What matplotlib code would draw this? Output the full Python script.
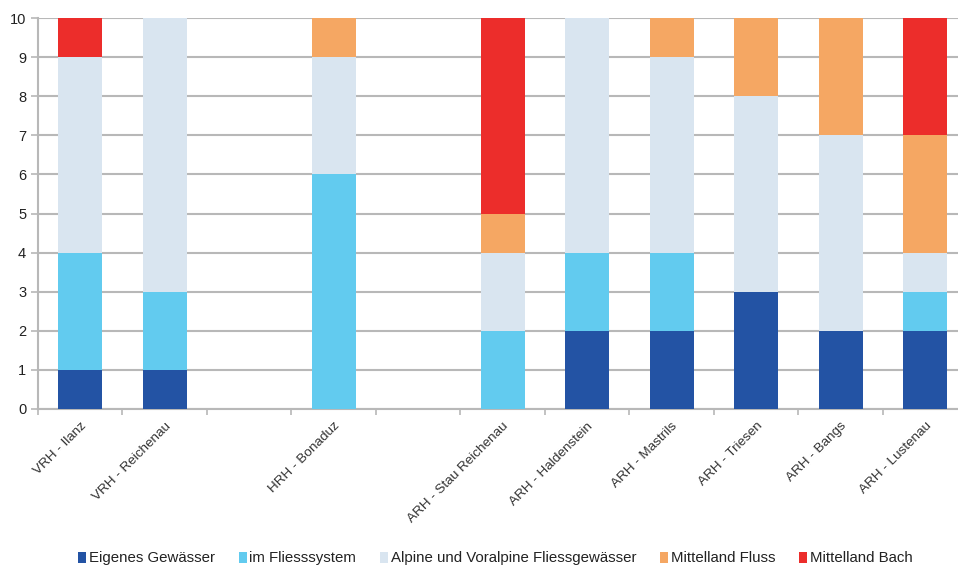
import numpy as np
import matplotlib.pyplot as plt
from matplotlib.patches import Patch

plt.rcParams["font.family"] = ["Liberation Sans", "DejaVu Sans"]

stations = ["VRH - Ilanz", "VRH - Reichenau", "", "HRH - Bonaduz", "",
            "ARH - Stau Reichenau", "ARH - Haldenstein", "ARH - Mastrils",
            "ARH - Triesen", "ARH - Bangs", "ARH - Lustenau"]
series = ["Eigenes Gewässer", "im Fliesssystem",
          "Alpine und Voralpine Fliessgewässer", "Mittelland Fluss",
          "Mittelland Bach"]
eigenes  = [1, 1, 0, 0, 0, 0, 2, 2, 3, 2, 2]
fliess   = [3, 2, 0, 6, 0, 2, 2, 2, 0, 0, 1]
alpine   = [5, 7, 0, 3, 0, 2, 6, 5, 5, 5, 1]
ml_fluss = [0, 0, 0, 1, 0, 1, 0, 1, 2, 3, 3]
ml_bach  = [1, 0, 0, 0, 0, 5, 0, 0, 0, 0, 3]
colors = ["#2353a4", "#62cbef", "#d9e5f0", "#f5a763", "#ec2d2b"]

fig = plt.figure(figsize=(9.58, 5.67), dpi=100)
ax = fig.add_axes([38 / 958, 158 / 567, 920 / 958, 391 / 567])

x = np.arange(len(stations))
bottom = np.zeros(len(stations))
for vals, col in zip([eigenes, fliess, alpine, ml_fluss, ml_bach], colors):
    ax.bar(x, vals, 0.52, bottom=bottom, color=col, zorder=3)
    bottom += np.array(vals)

ax.set_ylim(0, 10)
ax.set_xlim(-0.5, 10.39)
ax.set_yticks(range(11))
ax.yaxis.grid(True, color="#b8b8b8", linewidth=1.5, zorder=0)
ax.set_axisbelow(True)
for s in ["top", "right"]:
    ax.spines[s].set_visible(False)
for s in ["left", "bottom"]:
    ax.spines[s].set_color("#b8b8b8")
    ax.spines[s].set_linewidth(1.5)

ax.set_xticks(x)
ax.set_xticklabels(stations, rotation=45, ha="right", rotation_mode="anchor",
                   fontsize=9.7, color="#333333")
ax.tick_params(axis="x", length=0, pad=8)
ax.set_xticks(np.arange(-0.5, 10.5, 1), minor=True)
ax.tick_params(axis="x", which="minor", length=4, color="#b8b8b8", width=1.2)
ax.tick_params(axis="y", length=5, width=1.2, labelsize=10.5,
               colors="#b8b8b8", labelcolor="#222222")

handles = [Patch(facecolor=c, label=l) for c, l in zip(colors, series)]
fig.legend(handles=handles, loc="center", bbox_to_anchor=(0.517, 0.015),
           ncol=5, frameon=False, fontsize=10.8, handlelength=0.55,
           handleheight=0.75, handletextpad=0.15, columnspacing=1.6,
           labelcolor="#222222")

fig.savefig("out.png", dpi=100)
